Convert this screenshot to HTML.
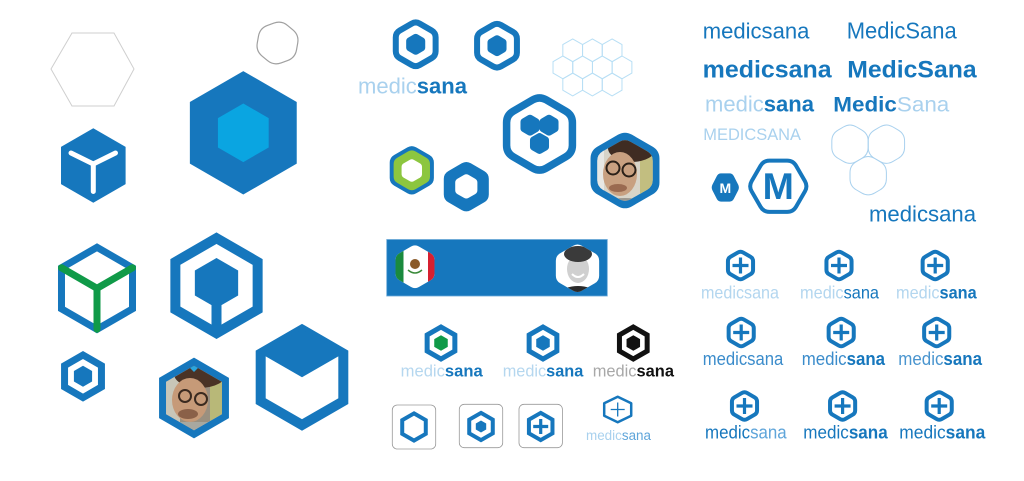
<!DOCTYPE html>
<html>
<head>
<meta charset="utf-8">
<style>
html,body{margin:0;padding:0;background:#fff;}
svg{display:block;}
text{font-family:"Liberation Sans",sans-serif;}
</style>
</head>
<body>
<svg width="1024" height="481" viewBox="0 0 1024 481" xmlns="http://www.w3.org/2000/svg">
<defs>
<polygon id="h" points="0,-1 0.866,-0.5 0.866,0.5 0,1 -0.866,0.5 -0.866,-0.5"/>
<path id="r" d="M-0.1732,-0.9 Q0,-1 0.1732,-0.9 L0.6928,-0.6 Q0.866,-0.5 0.866,-0.3 L0.866,0.3 Q0.866,0.5 0.6928,0.6 L0.1732,0.9 Q0,1 -0.1732,0.9 L-0.6928,0.6 Q-0.866,0.5 -0.866,0.3 L-0.866,-0.3 Q-0.866,-0.5 -0.6928,-0.6 Z"/>
<path id="rr" d="M-0.3031,-0.825 Q0,-1 0.3031,-0.825 L0.5629,-0.675 Q0.866,-0.5 0.866,-0.15 L0.866,0.15 Q0.866,0.5 0.5629,0.675 L0.3031,0.825 Q0,1 -0.3031,0.825 L-0.5629,0.675 Q-0.866,0.5 -0.866,0.15 L-0.866,-0.15 Q-0.866,-0.5 -0.5629,-0.675 Z"/>
<clipPath id="cp1"><use href="#h" transform="translate(194,398) scale(32.3)"/></clipPath>
<clipPath id="cp2"><use href="#r" transform="translate(625,170.5) scale(32)"/></clipPath>
<clipPath id="cp3"><use href="#r" transform="translate(415,266.7) scale(22.5)"/></clipPath>
<clipPath id="cp4"><use href="#r" transform="translate(577.5,268.3) scale(25)"/></clipPath>
</defs>

<!-- ===== LEFT COLUMN ===== -->
<polygon points="51,69 72,33 114,33 134,69 114,106 72,106" fill="none" stroke="#cfcfcf" stroke-width="1"/>
<use href="#rr" transform="translate(277.5,43) rotate(10) scale(23)" fill="none" stroke="#a0a0a0" stroke-width="0.052"/>

<!-- Y cube -->
<use href="#h" transform="translate(93.3,165.5) scale(37.3)" fill="#1677BD"/>
<path d="M71,153 L93.3,164 L115.5,153 M93.3,164 L93.3,191.5" stroke="#fff" stroke-width="5" stroke-linecap="round" stroke-linejoin="round" fill="none"/>

<!-- big hex -->
<use href="#h" transform="translate(243.3,132.8) scale(61.7)" fill="#1677BD"/>
<use href="#h" transform="translate(243.3,132.8) scale(29.3)" fill="#0AA5E1"/>

<!-- green Y -->
<use href="#h" transform="translate(97,288.3) scale(41)" fill="none" stroke="#1677BD" stroke-width="0.1707"/>
<path d="M61.5,267.8 L97,288.3 L132.5,267.8 M97,288.3 L97,329.3" stroke="#109A48" stroke-width="7" stroke-linecap="round" stroke-linejoin="round" fill="none"/>

<!-- outline cube -->
<use href="#h" transform="translate(216.5,285.7) scale(47.5)" fill="none" stroke="#1677BD" stroke-width="0.2105"/>
<use href="#h" transform="translate(216.5,283) scale(25)" fill="#1677BD"/>
<rect x="211.5" y="283" width="10" height="50" fill="#1677BD"/>

<!-- small ring -->
<use href="#h" transform="translate(83,376.3) scale(21.3)" fill="none" stroke="#1677BD" stroke-width="0.3286"/>
<use href="#h" transform="translate(83,376.3) scale(10.5)" fill="#1677BD"/>

<!-- photo left -->
<use href="#h" transform="translate(194,398) scale(36.3)" fill="#fff" stroke="#1677BD" stroke-width="0.193"/>
<g clip-path="url(#cp1)">
<rect x="160" y="364" width="70" height="70" fill="#9a9080"/>
<rect x="160" y="364" width="20" height="70" fill="#c8c6b8"/>
<rect x="210" y="378" width="20" height="44" fill="#b8b878"/>
<ellipse cx="200" cy="374" rx="26" ry="14" fill="#4a3326"/>
<ellipse cx="190" cy="400" rx="18" ry="22" fill="#c69a78"/>
<circle cx="185" cy="396" r="6" fill="none" stroke="#3a2a20" stroke-width="2"/>
<circle cx="201" cy="399" r="6" fill="none" stroke="#3a2a20" stroke-width="2"/>
<ellipse cx="188" cy="414" rx="10" ry="5" fill="#8a6048"/>
<rect x="160" y="422" width="70" height="12" fill="#a8a8a0"/>
<polygon points="188,366 200,366 194,372" fill="#2aa6dd"/>
</g>

<!-- big cube -->
<use href="#h" transform="translate(302,377.3) scale(47.7)" fill="none" stroke="#1677BD" stroke-width="0.2096"/>
<polygon points="302,329.6 343.3,353.45 302,377.3 260.7,353.45" fill="#1677BD"/>

<!-- ===== MIDDLE COLUMN ===== -->
<use href="#r" transform="translate(415.7,44.3) scale(23)" fill="none" stroke="#1677BD" stroke-width="0.2609"/>
<use href="#r" transform="translate(415.7,44.3) scale(11)" fill="#1677BD"/>
<use href="#r" transform="translate(497,45.7) scale(23)" fill="none" stroke="#1677BD" stroke-width="0.2609"/>
<use href="#r" transform="translate(497,45.7) scale(11)" fill="#1677BD"/>
<text x="358" y="93.3" font-size="22.5" textLength="109" lengthAdjust="spacingAndGlyphs"><tspan fill="#a9d1ee">medic</tspan><tspan fill="#1677BD" font-weight="bold">sana</tspan></text>

<!-- honeycomb -->
<g fill="none" stroke="#b8dff5" stroke-width="0.0877">
<use href="#h" transform="translate(572.7,50.3) scale(11.4)"/>
<use href="#h" transform="translate(592.4,50.3) scale(11.4)"/>
<use href="#h" transform="translate(612.1,50.3) scale(11.4)"/>
<use href="#h" transform="translate(562.9,67.4) scale(11.4)"/>
<use href="#h" transform="translate(582.6,67.4) scale(11.4)"/>
<use href="#h" transform="translate(602.3,67.4) scale(11.4)"/>
<use href="#h" transform="translate(622,67.4) scale(11.4)"/>
<use href="#h" transform="translate(572.7,84.5) scale(11.4)"/>
<use href="#h" transform="translate(592.4,84.5) scale(11.4)"/>
<use href="#h" transform="translate(612.1,84.5) scale(11.4)"/>
</g>

<!-- Y hex -->
<use href="#r" transform="translate(539.5,134) scale(38)" fill="none" stroke="#1677BD" stroke-width="0.1974"/>
<use href="#r" transform="translate(530,125.2) scale(11)" fill="#1677BD"/>
<use href="#r" transform="translate(549,125.2) scale(11)" fill="#1677BD"/>
<use href="#r" transform="translate(539.5,143.5) scale(11)" fill="#1677BD"/>

<!-- green ring hex -->
<use href="#r" transform="translate(411.8,170.3) scale(25.5)" fill="#1677BD"/>
<use href="#r" transform="translate(411.8,170.3) scale(21)" fill="#8CC63F"/>
<use href="#r" transform="translate(411.8,170.5) scale(11.8)" fill="#fff"/>

<!-- solid hex with white -->
<use href="#r" transform="translate(466.3,186.7) scale(26)" fill="#1677BD"/>
<use href="#r" transform="translate(466.3,186.4) scale(12.8)" fill="#fff"/>

<!-- photo right -->
<use href="#r" transform="translate(625,170.5) scale(39.8)" fill="#1677BD"/>
<g clip-path="url(#cp2)">
<rect x="590" y="136" width="70" height="70" fill="#d8d4c8"/>
<rect x="590" y="136" width="14" height="70" fill="#e8e8e4"/>
<rect x="640" y="150" width="20" height="50" fill="#c2be80"/>
<ellipse cx="632" cy="148" rx="24" ry="14" fill="#3f2c22"/>
<ellipse cx="620" cy="174" rx="17" ry="22" fill="#c8a080"/>
<circle cx="613" cy="168" r="6.5" fill="none" stroke="#2a2018" stroke-width="2"/>
<circle cx="629" cy="170" r="6.5" fill="none" stroke="#2a2018" stroke-width="2"/>
<ellipse cx="618" cy="188" rx="9" ry="4" fill="#9a6a50"/>
<ellipse cx="625" cy="206" rx="26" ry="8" fill="#9c9890"/>
</g>

<!-- banner -->
<rect x="386.7" y="239.5" width="220.6" height="56.5" fill="#1677BD" stroke="#6aa8d8" stroke-width="0.8"/>
<use href="#r" transform="translate(415,266.7) scale(22.5)" fill="#fff"/>
<g clip-path="url(#cp3)">
<rect x="390" y="242" width="13.5" height="50" fill="#1a8a3e"/>
<rect x="428" y="242" width="12" height="50" fill="#d62030"/>
<ellipse cx="415" cy="264" rx="5" ry="5" fill="#8a5a2a"/>
<path d="M408,270 Q415,276 422,270" stroke="#3a8a3a" stroke-width="1.5" fill="none"/>
</g>
<use href="#r" transform="translate(577.5,268.3) scale(25)" fill="#fff"/>
<g clip-path="url(#cp4)">
<ellipse cx="578" cy="293" rx="16" ry="7" fill="#2a2a2a"/>
<ellipse cx="578" cy="269" rx="11" ry="14" fill="#d0d0d0"/>
<ellipse cx="578" cy="254" rx="14" ry="8" fill="#3a3a3a"/>
<path d="M572,274 Q578,280 584,274" stroke="#fff" stroke-width="2" fill="none"/>
</g>

<!-- logos row -->
<use href="#h" transform="translate(441,343) scale(16)" fill="none" stroke="#1677BD" stroke-width="0.3125"/>
<use href="#h" transform="translate(441,343) scale(7.8)" fill="#109A48"/>
<text x="400.7" y="376.7" font-size="16.5" textLength="82" lengthAdjust="spacingAndGlyphs"><tspan fill="#b5d7ef">medic</tspan><tspan fill="#1677BD" font-weight="bold">sana</tspan></text>

<use href="#h" transform="translate(543,343) scale(16)" fill="none" stroke="#1677BD" stroke-width="0.3125"/>
<use href="#h" transform="translate(543,343) scale(7.8)" fill="#1677BD"/>
<text x="502.7" y="376.7" font-size="16.5" textLength="80.6" lengthAdjust="spacingAndGlyphs"><tspan fill="#b5d7ef">medic</tspan><tspan fill="#1677BD" font-weight="bold">sana</tspan></text>

<use href="#h" transform="translate(633.3,343) scale(16)" fill="none" stroke="#111" stroke-width="0.3125"/>
<use href="#h" transform="translate(633.3,343) scale(7.8)" fill="#111"/>
<text x="592.7" y="376.7" font-size="16.5" textLength="81.3" lengthAdjust="spacingAndGlyphs"><tspan fill="#a8a8a8">medic</tspan><tspan fill="#111" font-weight="bold">sana</tspan></text>

<!-- app icons -->
<rect x="392.3" y="405" width="43.4" height="44" rx="5" fill="#fff" stroke="#9a9a9a" stroke-width="0.8"/>
<use href="#h" transform="translate(414,427) scale(13.6)" fill="none" stroke="#1677BD" stroke-width="0.294"/>
<rect x="459.3" y="404.3" width="43.4" height="43.4" rx="5" fill="#fff" stroke="#9a9a9a" stroke-width="0.8"/>
<use href="#h" transform="translate(481,426.5) scale(13.6)" fill="none" stroke="#1677BD" stroke-width="0.294"/>
<use href="#h" transform="translate(481,426.5) scale(6)" fill="#1677BD"/>
<rect x="519" y="404.3" width="43.4" height="43.4" rx="5" fill="#fff" stroke="#9a9a9a" stroke-width="0.8"/>
<use href="#h" transform="translate(540.7,426.5) scale(13.6)" fill="none" stroke="#1677BD" stroke-width="0.294"/>
<path d="M533.2,426.5 H548.2 M540.7,419 V434" stroke="#1677BD" stroke-width="3.2"/>

<!-- thin plus logo -->
<polygon points="617.7,396.8 631.2,403.3 631.2,415.7 617.7,422.2 604.2,415.7 604.2,403.3" fill="none" stroke="#1677BD" stroke-width="2.5" stroke-linejoin="round"/>
<path d="M610.7,409.5 H624.7 M617.7,402.5 V416.5" stroke="#1677BD" stroke-width="1.3"/>
<text x="586" y="440" font-size="13.5" textLength="65" lengthAdjust="spacingAndGlyphs"><tspan fill="#a9d1ee">medic</tspan><tspan fill="#5fa5da">sana</tspan></text>

<!-- ===== RIGHT COLUMN ===== -->
<text x="702.7" y="38.3" font-size="22.5" fill="#1677BD" textLength="106.7" lengthAdjust="spacingAndGlyphs">medicsana</text>
<text x="846.7" y="38.3" font-size="23" fill="#1677BD" textLength="110" lengthAdjust="spacingAndGlyphs">MedicSana</text>
<text x="702.7" y="77.3" font-size="24" font-weight="bold" fill="#1677BD" textLength="129" lengthAdjust="spacingAndGlyphs">medicsana</text>
<text x="847.3" y="77.3" font-size="24" font-weight="bold" fill="#1677BD" textLength="129.3" lengthAdjust="spacingAndGlyphs">MedicSana</text>
<text x="705" y="111.7" font-size="22.5" textLength="109" lengthAdjust="spacingAndGlyphs"><tspan fill="#a9d1ee">medic</tspan><tspan fill="#1677BD" font-weight="bold">sana</tspan></text>
<text x="833.3" y="111.7" font-size="21.5" textLength="116" lengthAdjust="spacingAndGlyphs"><tspan fill="#1677BD" font-weight="bold">Medic</tspan><tspan fill="#a9d1ee">Sana</tspan></text>
<text x="703.3" y="140" font-size="16.3" fill="#a9d1ee" textLength="97.7" lengthAdjust="spacingAndGlyphs">MEDICSANA</text>

<!-- three rounded hexes -->
<g fill="none" stroke="#a9d1ee" stroke-width="0.0476">
<use href="#rr" transform="translate(850,144.2) scale(21)"/>
<use href="#rr" transform="translate(886.4,144.2) scale(21)"/>
<use href="#rr" transform="translate(868.2,175.7) scale(21)"/>
</g>

<!-- M hexes -->
<use href="#r" transform="translate(725.3,187.5) scale(14.3,16.3) rotate(90)" fill="#1677BD"/>
<text x="725.3" y="193" font-size="14" font-weight="bold" fill="#fff" text-anchor="middle">M</text>
<use href="#r" transform="translate(778.3,186.2) scale(29.6) rotate(90)" fill="none" stroke="#1677BD" stroke-width="0.135"/>
<text x="778.3" y="199" font-size="37.5" font-weight="bold" fill="#1677BD" text-anchor="middle">M</text>

<text x="869" y="221.7" font-size="22.5" fill="#1677BD" textLength="107" lengthAdjust="spacingAndGlyphs">medicsana</text>

<!-- plus grid -->
<g fill="none" stroke="#1677BD" stroke-width="0.276">
<use href="#r" transform="translate(740.5,265.5) scale(14.5)"/>
<use href="#r" transform="translate(839,265.5) scale(14.5)"/>
<use href="#r" transform="translate(935.2,265.5) scale(14.5)"/>
<use href="#r" transform="translate(741.2,332.5) scale(14.5)"/>
<use href="#r" transform="translate(841.2,332.5) scale(14.5)"/>
<use href="#r" transform="translate(936.7,332.5) scale(14.5)"/>
<use href="#r" transform="translate(744.5,406) scale(14.5)"/>
<use href="#r" transform="translate(842.6,406) scale(14.5)"/>
<use href="#r" transform="translate(939.2,406) scale(14.5)"/>
</g>
<path stroke="#1677BD" stroke-width="3.2" fill="none" d="
M732.5,265.5 H748.5 M740.5,257.5 V273.5
M831,265.5 H847 M839,257.5 V273.5
M927.2,265.5 H943.2 M935.2,257.5 V273.5
M733.2,332.5 H749.2 M741.2,324.5 V340.5
M833.2,332.5 H849.2 M841.2,324.5 V340.5
M928.7,332.5 H944.7 M936.7,324.5 V340.5
M736.5,406 H752.5 M744.5,398 V414
M834.6,406 H850.6 M842.6,398 V414
M931.2,406 H947.2 M939.2,398 V414"/>

<!-- row1 texts -->
<text x="701" y="298.3" font-size="17.5" fill="#b3d6ef" textLength="78" lengthAdjust="spacingAndGlyphs">medicsana</text>
<text x="800" y="298.3" font-size="17.5" textLength="79" lengthAdjust="spacingAndGlyphs"><tspan fill="#b3d6ef">medic</tspan><tspan fill="#1677BD">sana</tspan></text>
<text x="896" y="298.3" font-size="17.5" textLength="80.7" lengthAdjust="spacingAndGlyphs"><tspan fill="#b3d6ef">medic</tspan><tspan fill="#1677BD" font-weight="bold">sana</tspan></text>
<!-- row2 texts -->
<text x="702.7" y="365" font-size="18" fill="#3b8ccb" textLength="80.6" lengthAdjust="spacingAndGlyphs">medicsana</text>
<text x="801.7" y="365" font-size="18" textLength="83.3" lengthAdjust="spacingAndGlyphs"><tspan fill="#3b8ccb">medic</tspan><tspan fill="#1677BD" font-weight="bold">sana</tspan></text>
<text x="898.3" y="365" font-size="18" textLength="83.7" lengthAdjust="spacingAndGlyphs"><tspan fill="#4a95cf">medic</tspan><tspan fill="#1677BD" font-weight="bold">sana</tspan></text>
<!-- row3 texts -->
<text x="705" y="438.3" font-size="18.5" textLength="81.7" lengthAdjust="spacingAndGlyphs"><tspan fill="#1677BD">medic</tspan><tspan fill="#5fa5da">sana</tspan></text>
<text x="803.3" y="438.3" font-size="18.5" textLength="84.4" lengthAdjust="spacingAndGlyphs"><tspan fill="#1677BD">medic</tspan><tspan fill="#1677BD" font-weight="bold">sana</tspan></text>
<text x="899.3" y="438.3" font-size="18.5" textLength="86" lengthAdjust="spacingAndGlyphs"><tspan fill="#1677BD">medic</tspan><tspan fill="#1677BD" font-weight="bold">sana</tspan></text>
</svg>
</body>
</html>
